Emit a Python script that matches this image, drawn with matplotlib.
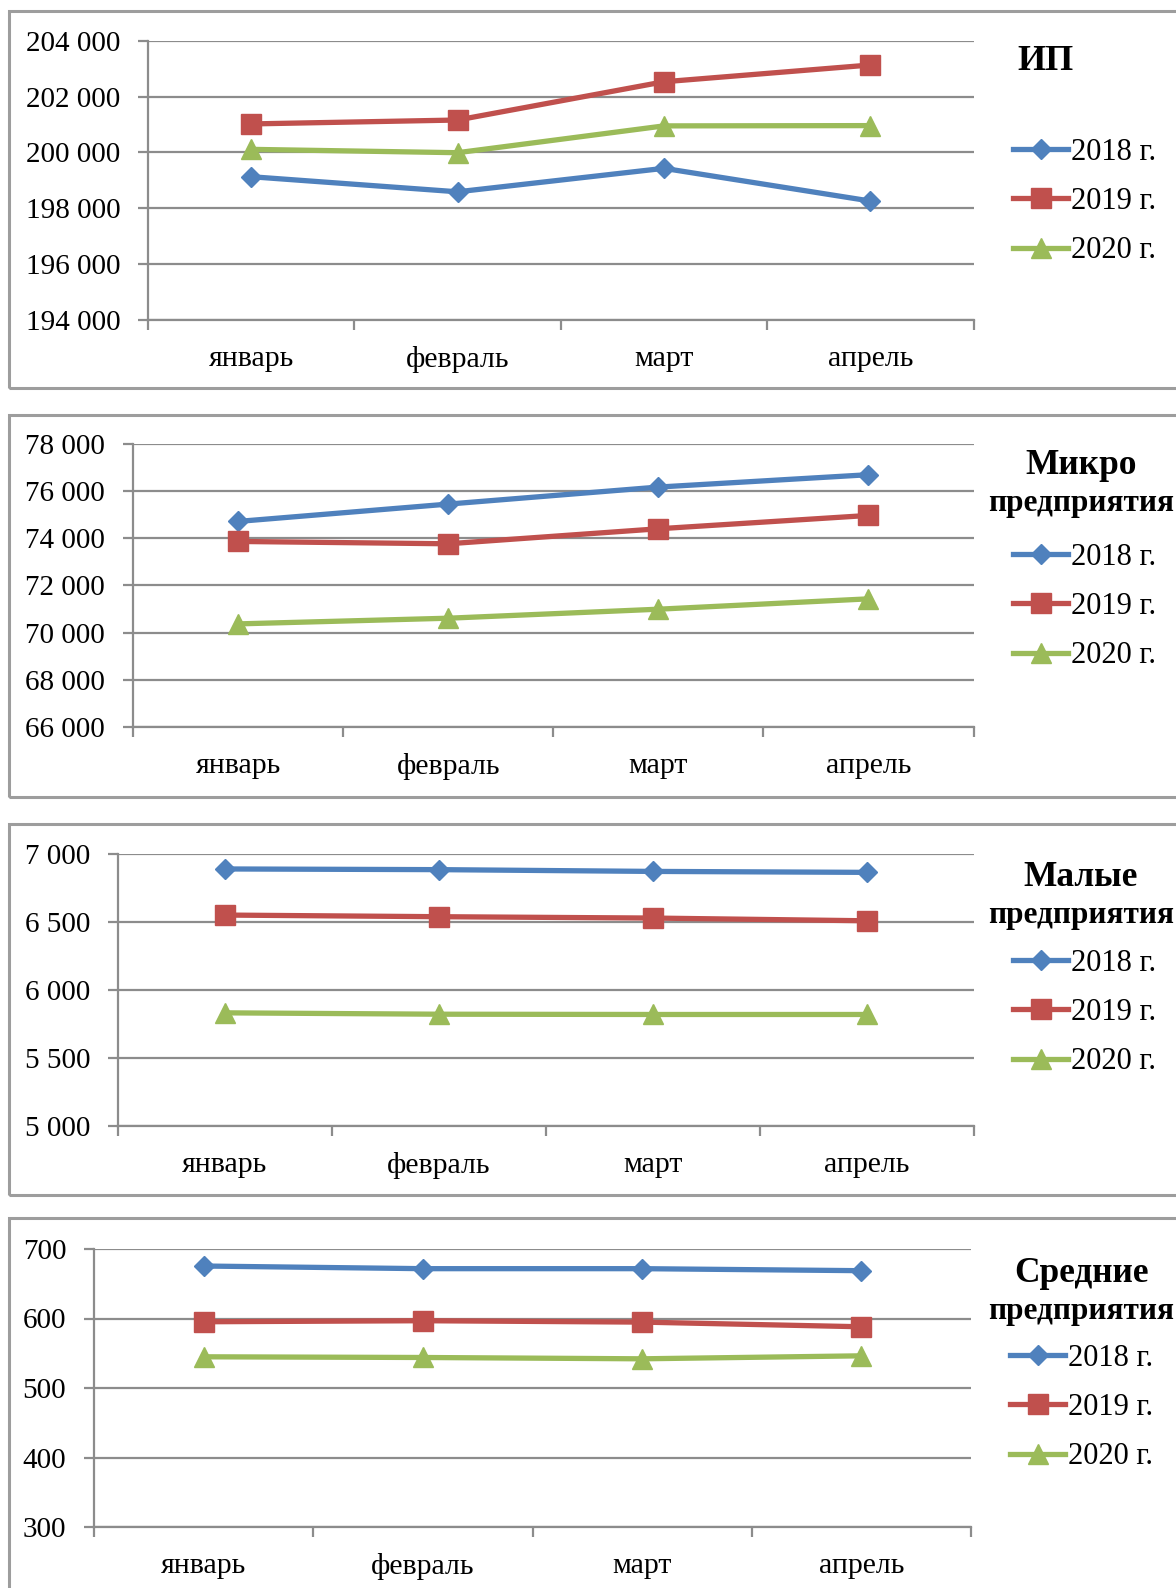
import matplotlib
matplotlib.use("Agg")
import matplotlib.pyplot as plt
from matplotlib.patches import Rectangle

plt.rcParams['font.family'] = ['Liberation Serif', 'DejaVu Serif']

months = ["январь", "февраль", "март", "апрель"]
series_labels = ["2018 г.", "2019 г.", "2020 г."]

ip_2018 = [199130, 198590, 199430, 198260]
ip_2019 = [201020, 201160, 202530, 203130]
ip_2020 = [200110, 199990, 200950, 200960]
ip_ticks = [194000, 196000, 198000, 200000, 202000, 204000]

micro_2018 = [74717, 75452, 76174, 76698]
micro_2019 = [73868, 73769, 74405, 74971]
micro_2020 = [70372, 70613, 70995, 71434]
micro_ticks = [66000, 68000, 70000, 72000, 74000, 76000, 78000]

small_2018 = [6890, 6885, 6872, 6865]
small_2019 = [6551, 6539, 6529, 6509]
small_2020 = [5832, 5822, 5820, 5820]
small_ticks = [5000, 5500, 6000, 6500, 7000]

medium_2018 = [675.5, 671.7, 671.7, 668.8]
medium_2019 = [595.3, 596.8, 594.8, 588.1]
medium_2020 = [544.9, 543.9, 542.0, 546.3]
medium_ticks = [300, 400, 500, 600, 700]

titles = ["ИП", "Микро\nпредприятия", "Малые\nпредприятия", "Средние\nпредприятия"]

W, H = 1176, 1588
fig = plt.figure(figsize=(W / 100, H / 100), dpi=100)

colors = ["#4F81BD", "#C0504D", "#9BBB59"]
markers = ["D", "s", "^"]
msizes = [10.5, 14.5, 14.5]
grid_c = "#8c8c8c"

panels = [
    dict(data=[ip_2018, ip_2019, ip_2020], ticks=ip_ticks, x0=148, x1=973.5, yt=40.7, yb=320,
         bt=11, bb=388, ty=[62], ly=152, lx=1013),
    dict(data=[micro_2018, micro_2019, micro_2020], ticks=micro_ticks, x0=133, x1=973.5, yt=444, yb=727,
         bt=415, bb=797, ty=[465, 503], ly=557, lx=1013),
    dict(data=[small_2018, small_2019, small_2020], ticks=small_ticks, x0=118, x1=973.5, yt=854, yb=1126,
         bt=824, bb=1195, ty=[877, 915], ly=963, lx=1013),
    dict(data=[medium_2018, medium_2019, medium_2020], ticks=medium_ticks, x0=94, x1=971, yt=1249, yb=1527,
         bt=1218, bb=1620, ty=[1273, 1312], ly=1358, lx=1010),
]

def fmt(v):
    return f"{v:,.0f}".replace(",", " ")

for p, title in zip(panels, titles):
    fig.add_artist(Rectangle((9 / W, 1 - p['bb'] / H), (W + 20 - 9) / W, (p['bb'] - p['bt']) / H,
                             transform=fig.transFigure, fill=False, edgecolor="#9d9d9d", lw=2.2,
                             clip_on=False))
    ax = fig.add_axes([p['x0'] / W, 1 - p['yb'] / H, (p['x1'] - p['x0']) / W, (p['yb'] - p['yt']) / H])
    x = list(range(len(months)))
    handles = []
    for vals, c, m, ms, lab in zip(p['data'], colors, markers, msizes, series_labels):
        h, = ax.plot(x, vals, color=c, lw=3.8, marker=m, markersize=ms, markerfacecolor=c,
                     markeredgecolor=c, label=lab, zorder=3, solid_joinstyle='round')
        handles.append(h)
    ax.set_xlim(-0.5, len(months) - 0.5)
    ax.set_ylim(p['ticks'][0], p['ticks'][-1])
    ax.set_yticks(p['ticks'])
    ax.set_yticklabels([fmt(t) for t in p['ticks']])
    ax.set_xticks([i - 0.5 for i in range(len(months) + 1)])
    ax.set_xticklabels([])
    ax.set_xticks(x, minor=True)
    ax.set_xticklabels(months, minor=True)
    ax.tick_params(axis='x', which='minor', length=0, pad=19, labelsize=21.5)
    ax.tick_params(axis='x', which='major', length=7, width=1.6, color=grid_c, direction='out')
    ax.tick_params(axis='y', length=7, width=1.6, color=grid_c, pad=13, labelsize=21)
    ax.grid(axis='y', color=grid_c, lw=1.6, zorder=0)
    ax.set_axisbelow(True)
    for s in ['top', 'right']:
        ax.spines[s].set_visible(False)
    for s in ['left', 'bottom']:
        ax.spines[s].set_color(grid_c)
        ax.spines[s].set_linewidth(1.6)
    ax.patch.set_alpha(0)

    lines = title.split("\n")
    if len(lines) == 1:
        fig.text(1046 / W, 1 - p['ty'][0] / H, lines[0], ha='center', va='center',
                 fontsize=26, fontweight='bold')
    else:
        for ln, yy, fs in zip(lines, p['ty'], [25.5, 22.5]):
            fig.text(1081 / W, 1 - yy / H, ln, ha='center', va='center',
                     fontsize=fs, fontweight='bold')

    ax.legend(handles=handles, loc='upper left',
              bbox_to_anchor=(p['lx'] / W, 1 - (p['ly'] - 14) / H),
              bbox_transform=fig.transFigure, frameon=False, fontsize=22,
              handlelength=1.8, handletextpad=0.1, labelspacing=0.66,
              borderpad=0, borderaxespad=0, numpoints=1)

fig.savefig("out.png", dpi=100)
